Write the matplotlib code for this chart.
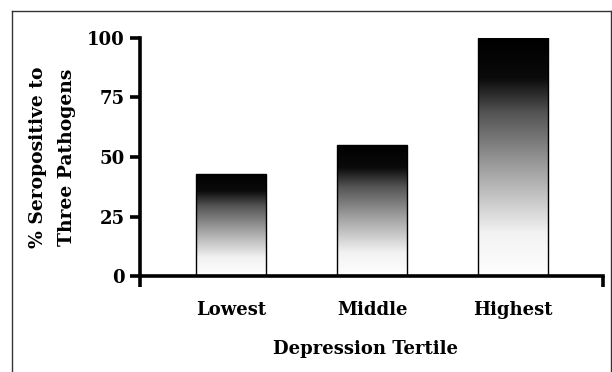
import numpy as np
import matplotlib
matplotlib.use("Agg")
import matplotlib.pyplot as plt
from matplotlib.colors import LinearSegmentedColormap
from matplotlib.lines import Line2D

categories = ["Lowest", "Middle", "Highest"]
values = [43, 55, 100]
y_ticks = [0, 25, 50, 75, 100]

plt.rcParams['font.family'] = ['DejaVu Serif']
plt.rcParams['font.weight'] = 'bold'

fig = plt.figure(figsize=(6.12, 3.72), dpi=100)
ax = fig.add_axes([0.2288, 0.258, 0.7565, 0.640])

# black at top fading to white at the base of each bar
cmap = LinearSegmentedColormap.from_list(
    "fade", [(0.0, "#ffffff"), (0.18, "#f2f2f2"), (0.45, "#a0a0a0"),
             (0.68, "#555555"), (0.83, "#0a0a0a"), (1.0, "#000000")])
grad = np.linspace(0, 1, 256).reshape(-1, 1)

x = np.arange(len(categories))
width = 0.5
bars = ax.bar(x, values, width, facecolor="none", edgecolor="black", lw=1.0, zorder=3)
for b in bars:
    x0, w, h = b.get_x(), b.get_width(), b.get_height()
    im = ax.imshow(grad, cmap=cmap, origin="lower", aspect="auto",
                   extent=[x0, x0 + w, 0, h], zorder=2)
    im.set_clip_path(b)

ax.set_xlim(-0.645, 2.638)
ax.set_ylim(0, 100)

for s in ["top", "right"]:
    ax.spines[s].set_visible(False)
for s in ["left", "bottom"]:
    ax.spines[s].set_linewidth(2.6)
    ax.spines[s].set_capstyle("projecting")

ax.set_yticks(y_ticks)
ax.tick_params(axis="y", direction="out", length=7, width=2.6, pad=4, labelsize=13)
# end ticks on the x axis, category names as minor tick labels
ax.set_xticks([-0.645, 2.638])
ax.set_xticklabels([])
ax.tick_params(axis="x", which="major", direction="out", length=8, width=2.6)
ax.set_xticks(x, minor=True)
ax.set_xticklabels(categories, minor=True)
ax.tick_params(axis="x", which="minor", length=0, pad=18, labelsize=13)

ax.set_xlabel("Depression Tertile", fontsize=13, fontweight="bold")
ax.xaxis.set_label_coords(0.487, -0.307)
ax.xaxis.label.set_va("center")
ax.set_ylabel("% Seropositive to\nThree Pathogens", fontsize=13.5, fontweight="bold",
              linespacing=1.75)
ax.yaxis.set_label_coords(-0.189, 0.5)
ax.yaxis.label.set_va("center")

# frame around the figure
for xs, ys in [([0.02, 0.02], [0.0, 0.971]), ([0.02, 0.998], [0.971, 0.971]),
               ([0.998, 0.998], [0.0, 0.971])]:
    fig.add_artist(Line2D(xs, ys, color="#333333", lw=1.0, transform=fig.transFigure))

fig.savefig("out.png", dpi=100)
